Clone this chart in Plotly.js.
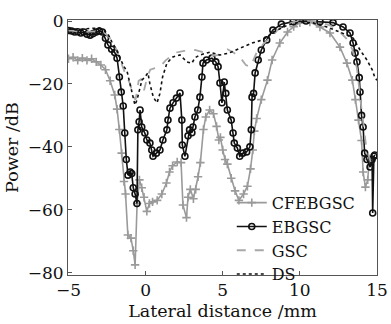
<!DOCTYPE html>
<html>
<head>
<meta charset="utf-8">
<script src="https://cdn.plot.ly/plotly-3.0.1.min.js"></script>
<style>html,body{margin:0;padding:0;background:#fff;}#chart{width:391px;height:324px;}</style>
</head>
<body>
<div id="chart"></div>
<script>
const seriesNames = ["CFEBGSC", "EBGSC", "GSC", "DS"];

const cfebgscX = [-5,-4.7,-4.4,-4.1,-3.8,-3.5,-3.2,-2.9,-2.6,-2.3,-2.0,-1.85,-1.7,-1.55,-1.4,-1.3,-1.15,-0.95,-0.8,-0.68,-0.55,-0.4,-0.25,-0.1,0.08,0.25,0.45,0.75,1.05,1.35,1.55,1.75,2.05,2.3,2.42,2.65,2.75,2.9,3.1,3.25,3.4,3.55,3.75,3.9,4.15,4.4,4.6,4.75,4.85,5.0,5.15,5.3,5.55,5.8,6.05,6.35,6.6,6.8,6.95,7.05,7.2,7.5,7.9,8.2,8.7,9.2,9.6,10.0,10.65,11.3,11.95,12.6,13.05,13.4,13.6,13.8,14.0,14.1,14.25,14.4,14.5];
const cfebgscY = [-12,-11.5,-12.5,-11.8,-12.5,-12,-13,-14,-15.5,-19,-23.5,-28,-34.5,-42,-51,-55,-68,-69,-73,-77.5,-58,-50.5,-53,-56,-60.5,-58,-57.5,-57,-55,-51.5,-48,-46,-44.8,-45,-58.5,-62.5,-56,-53.5,-56.5,-53.5,-49.5,-45,-34.5,-30.5,-28.3,-29.5,-33.5,-37.8,-37,-41,-44,-45.5,-50,-54,-57,-55,-52.5,-47,-41,-35,-31,-25,-18.8,-12.4,-7,-3.5,-1.8,-0.6,-0.3,-1.9,-3.8,-8.3,-13.4,-18.8,-25,-31.5,-38,-48,-52.8,-50.5,-44];

const ebgscX = [-5,-4.8,-4.6,-4.4,-4.2,-4.0,-3.8,-3.6,-3.4,-3.2,-3.0,-2.8,-2.6,-2.44,-2.2,-2.0,-1.85,-1.7,-1.58,-1.45,-1.35,-1.25,-1.14,-1.0,-0.9,-0.8,-0.68,-0.56,-0.5,-0.42,-0.36,-0.25,-0.05,0.08,0.28,0.4,0.48,0.7,0.93,1.12,1.38,1.45,1.58,1.78,2.0,2.23,2.35,2.38,2.55,2.75,2.85,3.0,3.07,3.2,3.38,3.52,3.65,3.72,3.95,4.3,4.55,4.7,4.82,4.95,5.1,5.2,5.3,5.55,5.67,5.75,5.95,6.1,6.3,6.55,6.76,6.85,6.9,7.0,7.1,7.3,7.5,7.85,8.25,8.8,9.57,10.4,11.3,12.15,12.8,13.25,13.45,13.58,13.7,13.85,13.9,14.0,14.1,14.2,14.35,14.55,14.68,14.72,14.8,14.86];
const ebgscY = [-3,-3.2,-3.5,-3.4,-3.8,-3.5,-4.2,-4.5,-4,-3.5,-3.2,-3.5,-5.5,-7.6,-9,-10,-11.8,-17.8,-22.6,-27,-35.6,-44,-49,-48,-48.5,-53,-55,-58,-34.6,-32,-28.3,-33.7,-35.6,-37.8,-38.8,-41,-43,-42,-41,-37.8,-34.6,-31.5,-27.7,-26,-24.5,-22.9,-31.5,-39.4,-43,-36.5,-34.6,-35.5,-33.7,-30.5,-28.3,-24.2,-17.8,-13.4,-12.4,-11.8,-13,-14.5,-19.7,-26,-19.4,-23,-28.3,-31.5,-35.6,-38.8,-40.4,-43,-42,-41.6,-40,-34.6,-24.2,-23,-16.5,-12.4,-9.2,-6,-2.9,-1,-0.2,0,-0.2,-0.5,-1.9,-3.8,-7,-10.2,-13,-18,-22.6,-30,-33.7,-42,-44,-46.4,-44,-61,-43,-42.6];

const gscX = [-5,-4,-3,-2.6,-2.2,-1.9,-1.6,-1.3,-1.0,-0.8,-0.65,-0.45,-0.3,-0.1,0.1,0.3,0.6,0.93,1.3,1.58,2.0,2.5,3.2,3.8,4.4,4.8,5.0,5.3,5.7,6.1,6.5,6.8,7.2,7.6,8.0,8.7,9.6,10.5,11.4,12.0,12.6,13.0,13.4,13.7,14.0,14.3,14.6];
const gscY = [-3,-3.5,-3.2,-4,-6,-9,-13,-17,-20,-24,-25,-19,-18.5,-22,-18,-15.5,-15,-14.6,-12.5,-11.4,-10,-9.5,-9.2,-10,-11,-10.8,-10.2,-9,-10,-11.4,-14,-14.6,-10,-7.5,-5.5,-2.2,-0.3,0,-0.5,-1.5,-3.5,-5.5,-9,-15,-28,-40,-45];

const dsX = [-5,-4.5,-4,-3.5,-3,-2.7,-2.4,-2.18,-1.9,-1.66,-1.4,-1.2,-1.0,-0.85,-0.69,-0.55,-0.4,-0.24,-0.05,0.15,0.28,0.5,0.74,0.93,1.1,1.38,1.77,2.23,2.68,3.0,3.2,3.52,4.17,4.8,5.4,5.9,6.3,6.9,7.6,8.3,9.2,10.0,10.85,11.75,12.6,13.45,13.9,14.35,14.7,14.87,15];
const dsY = [-2.5,-2.8,-2.5,-2.3,-2.2,-3,-4.5,-6.7,-9,-11.8,-14.5,-16,-20,-22.6,-26.7,-25,-22,-18.8,-17.8,-16.5,-20,-24.2,-26,-23,-17.8,-13.4,-11.4,-10.8,-13,-13.4,-11.7,-10.8,-9.9,-10.8,-10.2,-9.2,-8.3,-7,-6,-3.5,-1.3,-0.3,-0.6,-1.9,-3.5,-5.4,-9.2,-12.4,-15.6,-18.1,-18.8];

const xTickVals = [-5, 0, 5, 10, 15];
const yTickVals = [-80, -60, -40, -20, 0];

const FONT = "DejaVu Serif, serif";

const traces = [
  {x: cfebgscX, y: cfebgscY, name: seriesNames[0], mode: "lines+markers",
   line: {color: "#9a9a9a", width: 1.6},
   marker: {symbol: "cross-thin-open", size: 6, color: "#9a9a9a", line: {color: "#9a9a9a", width: 1.6}}},
  {x: ebgscX, y: ebgscY, name: seriesNames[1], mode: "lines+markers",
   line: {color: "#111111", width: 1.6},
   marker: {symbol: "circle-open", size: 6, color: "#111111", line: {color: "#111111", width: 1.6}}},
  {x: gscX, y: gscY, name: seriesNames[2], mode: "lines",
   line: {color: "#a8a8a8", width: 1.8, dash: "dash"}},
  {x: dsX, y: dsY, name: seriesNames[3], mode: "lines",
   line: {color: "#111111", width: 1.6, dash: "dot"}}
];

const layout = {
  width: 391, height: 324,
  margin: {l: 68, r: 14, t: 20, b: 49},
  paper_bgcolor: "#ffffff", plot_bgcolor: "#ffffff",
  font: {family: FONT, size: 17, color: "#111"},
  showlegend: true,
  legend: {x: 0.53, y: 0.35, xanchor: "left", yanchor: "top", bgcolor: "rgba(0,0,0,0)",
           borderwidth: 0, tracegroupgap: 0, itemwidth: 30,
           font: {family: FONT, size: 16, color: "#111"}},
  xaxis: {range: [-5.03, 15.0], tickvals: xTickVals, ticks: "inside", ticklen: 4,
          tickcolor: "#555", showline: true, linecolor: "#555", linewidth: 1, mirror: true,
          showgrid: false, zeroline: false,
          tickfont: {family: FONT, size: 17, color: "#111"},
          title: {text: "Lateral distance /mm", font: {family: FONT, size: 17.5, color: "#111"}, standoff: 5}},
  yaxis: {range: [-80.73, 0.32], tickvals: yTickVals, ticks: "inside", ticklen: 4,
          tickcolor: "#555", showline: true, linecolor: "#555", linewidth: 1, mirror: true,
          showgrid: false, zeroline: false,
          tickfont: {family: FONT, size: 17, color: "#111"},
          title: {text: "Power /dB", font: {family: FONT, size: 17.5, color: "#111"}, standoff: 4}}
};

Plotly.newPlot("chart", traces, layout, {displayModeBar: false, staticPlot: true});
</script>
</body>
</html>
